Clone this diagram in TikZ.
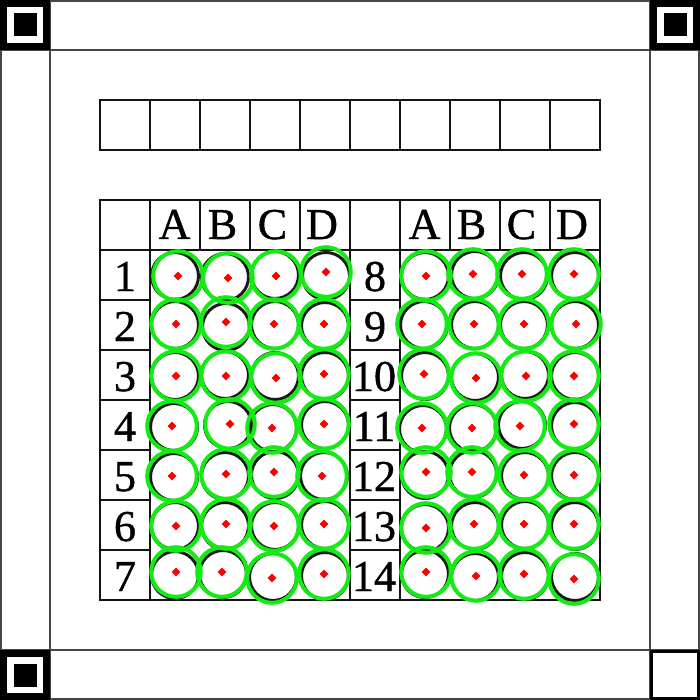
\documentclass[tikz,border=0pt]{standalone}
\usepackage{fontspec}
\setmainfont{Liberation Serif}
\newfontfamily\scanfont[FakeBold=1]{Liberation Serif}

\tikzset{every picture/.style={line width=2pt}}
\tikzset{
  sheetline/.style={draw={rgb, 255:red, 70; green, 70; blue, 70 }, line width=2pt},
  cellline/.style={draw={rgb, 255:red, 20; green, 20; blue, 20 }, line width=2pt},
  printed/.style={draw={rgb, 255:red, 25; green, 25; blue, 25 }, line width=3pt},
  found/.style={draw={rgb, 255:red, 20; green, 235; blue, 20 }, line width=4pt},
  ctr/.style={fill={rgb, 255:red, 255; green, 0; blue, 0 }, draw opacity=0},
  lbl/.style={font=\scanfont\fontsize{44}{44}\selectfont, anchor=base, inner sep=0pt},
}

\begin{document}
\begin{tikzpicture}[x=1pt,y=1pt,yscale=-1,xscale=1]
	\useasboundingbox (0,0) rectangle (700,700);

	%Shape: Rectangle [sheet edge]
	\draw [sheetline] (1,1) rectangle (699,699) ;
	%Straight Lines [margin strips]
	\draw [sheetline] (50,0) -- (50,700) ;
	\draw [sheetline] (650,0) -- (650,700) ;
	\draw [sheetline] (0,50) -- (700,50) ;
	\draw [sheetline] (0,650) -- (700,650) ;

	%Shape: Square [corner marks]
	\fill [black] (0,0) rectangle (50,50) ;
	\fill [white] (7,7) rectangle (43,43) ;
	\fill [black] (13.5,13.5) rectangle (36.5,36.5) ;
	\fill [black] (650,0) rectangle (700,50) ;
	\fill [white] (657,7) rectangle (693,43) ;
	\fill [black] (663.5,13.5) rectangle (686.5,36.5) ;
	\fill [black] (0,650) rectangle (50,700) ;
	\fill [white] (7,657) rectangle (43,693) ;
	\fill [black] (13.5,663.5) rectangle (36.5,686.5) ;
	\draw [line width=3pt] (651.5,651.5) rectangle (698.5,698.5) ;

	%Shape: Rectangle [id boxes]
	\draw [cellline] (100,100) rectangle (600,150) ;
	\draw [cellline] (150,100) -- (150,150) ;
	\draw [cellline] (200,100) -- (200,150) ;
	\draw [cellline] (250,100) -- (250,150) ;
	\draw [cellline] (300,100) -- (300,150) ;
	\draw [cellline] (350,100) -- (350,150) ;
	\draw [cellline] (400,100) -- (400,150) ;
	\draw [cellline] (450,100) -- (450,150) ;
	\draw [cellline] (500,100) -- (500,150) ;
	\draw [cellline] (550,100) -- (550,150) ;

	%Shape: Rectangle [answer table]
	\draw [cellline] (100,200) rectangle (600,600) ;
	\draw [cellline] (100,250) -- (600,250) ;
	\draw [cellline] (150,200) -- (150,600) ;
	\draw [cellline] (350,200) -- (350,600) ;
	\draw [cellline] (400,200) -- (400,600) ;
	\draw [cellline] (200,200) -- (200,250) ;
	\draw [cellline] (250,200) -- (250,250) ;
	\draw [cellline] (300,200) -- (300,250) ;
	\draw [cellline] (450,200) -- (450,250) ;
	\draw [cellline] (500,200) -- (500,250) ;
	\draw [cellline] (550,200) -- (550,250) ;
	\draw [cellline] (100,300) -- (150,300) (350,300) -- (400,300) ;
	\draw [cellline] (100,350) -- (150,350) (350,350) -- (400,350) ;
	\draw [cellline] (100,400) -- (150,400) (350,400) -- (400,400) ;
	\draw [cellline] (100,450) -- (150,450) (350,450) -- (400,450) ;
	\draw [cellline] (100,500) -- (150,500) (350,500) -- (400,500) ;
	\draw [cellline] (100,550) -- (150,550) (350,550) -- (400,550) ;

	%Shape: Circle [printed bubbles]
	\draw [printed] (175,276) circle (23.5) (225,277) circle (23.5) (275,275) circle (23.5) (326,276) circle (23.5) (425,276) circle (23.5) (475,275) circle (23.5) (524,276) circle (23.5) (575,276) circle (23.5) ;
	\draw [printed] (175,325) circle (23.5) (226,327) circle (23.5) (275,325) circle (23.5) (325,326) circle (23.5) (424,325) circle (23.5) (475,325) circle (23.5) (524,325) circle (23.5) (575,325) circle (23.5) ;
	\draw [printed] (175,376) circle (23.5) (225,375) circle (23.5) (275,376) circle (23.5) (325,376) circle (23.5) (425,376) circle (23.5) (475,377) circle (23.5) (525,375) circle (23.5) (575,376) circle (23.5) ;
	\draw [printed] (174,427) circle (23.5) (228,425) circle (23.5) (273,428) circle (23.5) (325,425) circle (23.5) (423,429) circle (23.5) (473,428) circle (23.5) (522,425) circle (23.5) (575,426) circle (23.5) ;
	\draw [printed] (174,477) circle (23.5) (225,476) circle (23.5) (275,475) circle (23.5) (324,476) circle (23.5) (425,475) circle (23.5) (473,474) circle (23.5) (525,476) circle (23.5) (575,476) circle (23.5) ;
	\draw [printed] (175,526) circle (23.5) (225,526) circle (23.5) (275,526) circle (23.5) (325,525) circle (23.5) (425,528) circle (23.5) (475,526) circle (23.5) (525,525) circle (23.5) (575,526) circle (23.5) ;
	\draw [printed] (175,575) circle (23.5) (223,574) circle (23.5) (273,577) circle (23.5) (325,576) circle (23.5) (425,574) circle (23.5) (475,577) circle (23.5) (525,576) circle (23.5) (575,577) circle (23.5) ;

	%Shape: Circle [detected bubbles]
	\draw [found] (178,276) circle (24.8) (228,278) circle (24.8) (276,276) circle (24.8) (326,272) circle (24.8) (426,276) circle (24.8) (473,274) circle (24.8) (522,274) circle (24.8) (574,274) circle (24.8) ;
	\draw [found] (176,324) circle (24.8) (226,322) circle (24.8) (274,324) circle (24.8) (324,324) circle (24.8) (422,324) circle (24.8) (474,324) circle (24.8) (524,324) circle (24.8) (576,324) circle (24.8) ;
	\draw [found] (176,376) circle (24.8) (226,376) circle (24.8) (276,378) circle (24.8) (324,374) circle (24.8) (424,374) circle (24.8) (476,378) circle (24.8) (526,376) circle (24.8) (574,376) circle (24.8) ;
	\draw [found] (172,426) circle (24.8) (230,424) circle (24.8) (272,428) circle (24.8) (324,424) circle (24.8) (422,428) circle (24.8) (472,428) circle (24.8) (520,426) circle (24.8) (574,424) circle (24.8) ;
	\draw [found] (172,476) circle (24.8) (226,474) circle (24.8) (274,472) circle (24.8) (322,476) circle (24.8) (426,472) circle (24.8) (472,472) circle (24.8) (524,475) circle (24.8) (574,475) circle (24.8) ;
	\draw [found] (176,526) circle (24.8) (226,524) circle (24.8) (274,526) circle (24.8) (324,524) circle (24.8) (426,528) circle (24.8) (474,524) circle (24.8) (524,524) circle (24.8) (574,524) circle (24.8) ;
	\draw [found] (176,572) circle (24.8) (222,572) circle (24.8) (272,578) circle (24.8) (324,574) circle (24.8) (426,572) circle (24.8) (476,576) circle (24.8) (524,574) circle (24.8) (574,579) circle (24.8) ;

	%Shape: Diamond [detected centres]
	\fill [ctr] (178,276) +(0,-4.3) -- +(4.3,0) -- +(0,4.3) -- +(-4.3,0) -- cycle (228,278) +(0,-4.3) -- +(4.3,0) -- +(0,4.3) -- +(-4.3,0) -- cycle (276,276) +(0,-4.3) -- +(4.3,0) -- +(0,4.3) -- +(-4.3,0) -- cycle (326,272) +(0,-4.3) -- +(4.3,0) -- +(0,4.3) -- +(-4.3,0) -- cycle ;
	\fill [ctr] (426,276) +(0,-4.3) -- +(4.3,0) -- +(0,4.3) -- +(-4.3,0) -- cycle (473,274) +(0,-4.3) -- +(4.3,0) -- +(0,4.3) -- +(-4.3,0) -- cycle (522,274) +(0,-4.3) -- +(4.3,0) -- +(0,4.3) -- +(-4.3,0) -- cycle (574,274) +(0,-4.3) -- +(4.3,0) -- +(0,4.3) -- +(-4.3,0) -- cycle ;
	\fill [ctr] (176,324) +(0,-4.3) -- +(4.3,0) -- +(0,4.3) -- +(-4.3,0) -- cycle (226,322) +(0,-4.3) -- +(4.3,0) -- +(0,4.3) -- +(-4.3,0) -- cycle (274,324) +(0,-4.3) -- +(4.3,0) -- +(0,4.3) -- +(-4.3,0) -- cycle (324,324) +(0,-4.3) -- +(4.3,0) -- +(0,4.3) -- +(-4.3,0) -- cycle ;
	\fill [ctr] (422,324) +(0,-4.3) -- +(4.3,0) -- +(0,4.3) -- +(-4.3,0) -- cycle (474,324) +(0,-4.3) -- +(4.3,0) -- +(0,4.3) -- +(-4.3,0) -- cycle (524,324) +(0,-4.3) -- +(4.3,0) -- +(0,4.3) -- +(-4.3,0) -- cycle (576,324) +(0,-4.3) -- +(4.3,0) -- +(0,4.3) -- +(-4.3,0) -- cycle ;
	\fill [ctr] (176,376) +(0,-4.3) -- +(4.3,0) -- +(0,4.3) -- +(-4.3,0) -- cycle (226,376) +(0,-4.3) -- +(4.3,0) -- +(0,4.3) -- +(-4.3,0) -- cycle (276,378) +(0,-4.3) -- +(4.3,0) -- +(0,4.3) -- +(-4.3,0) -- cycle (324,374) +(0,-4.3) -- +(4.3,0) -- +(0,4.3) -- +(-4.3,0) -- cycle ;
	\fill [ctr] (424,374) +(0,-4.3) -- +(4.3,0) -- +(0,4.3) -- +(-4.3,0) -- cycle (476,378) +(0,-4.3) -- +(4.3,0) -- +(0,4.3) -- +(-4.3,0) -- cycle (526,376) +(0,-4.3) -- +(4.3,0) -- +(0,4.3) -- +(-4.3,0) -- cycle (574,376) +(0,-4.3) -- +(4.3,0) -- +(0,4.3) -- +(-4.3,0) -- cycle ;
	\fill [ctr] (172,426) +(0,-4.3) -- +(4.3,0) -- +(0,4.3) -- +(-4.3,0) -- cycle (230,424) +(0,-4.3) -- +(4.3,0) -- +(0,4.3) -- +(-4.3,0) -- cycle (272,428) +(0,-4.3) -- +(4.3,0) -- +(0,4.3) -- +(-4.3,0) -- cycle (324,424) +(0,-4.3) -- +(4.3,0) -- +(0,4.3) -- +(-4.3,0) -- cycle ;
	\fill [ctr] (422,428) +(0,-4.3) -- +(4.3,0) -- +(0,4.3) -- +(-4.3,0) -- cycle (472,428) +(0,-4.3) -- +(4.3,0) -- +(0,4.3) -- +(-4.3,0) -- cycle (520,426) +(0,-4.3) -- +(4.3,0) -- +(0,4.3) -- +(-4.3,0) -- cycle (574,424) +(0,-4.3) -- +(4.3,0) -- +(0,4.3) -- +(-4.3,0) -- cycle ;
	\fill [ctr] (172,476) +(0,-4.3) -- +(4.3,0) -- +(0,4.3) -- +(-4.3,0) -- cycle (226,474) +(0,-4.3) -- +(4.3,0) -- +(0,4.3) -- +(-4.3,0) -- cycle (274,472) +(0,-4.3) -- +(4.3,0) -- +(0,4.3) -- +(-4.3,0) -- cycle (322,476) +(0,-4.3) -- +(4.3,0) -- +(0,4.3) -- +(-4.3,0) -- cycle ;
	\fill [ctr] (426,472) +(0,-4.3) -- +(4.3,0) -- +(0,4.3) -- +(-4.3,0) -- cycle (472,472) +(0,-4.3) -- +(4.3,0) -- +(0,4.3) -- +(-4.3,0) -- cycle (524,475) +(0,-4.3) -- +(4.3,0) -- +(0,4.3) -- +(-4.3,0) -- cycle (574,475) +(0,-4.3) -- +(4.3,0) -- +(0,4.3) -- +(-4.3,0) -- cycle ;
	\fill [ctr] (176,526) +(0,-4.3) -- +(4.3,0) -- +(0,4.3) -- +(-4.3,0) -- cycle (226,524) +(0,-4.3) -- +(4.3,0) -- +(0,4.3) -- +(-4.3,0) -- cycle (274,526) +(0,-4.3) -- +(4.3,0) -- +(0,4.3) -- +(-4.3,0) -- cycle (324,524) +(0,-4.3) -- +(4.3,0) -- +(0,4.3) -- +(-4.3,0) -- cycle ;
	\fill [ctr] (426,528) +(0,-4.3) -- +(4.3,0) -- +(0,4.3) -- +(-4.3,0) -- cycle (474,524) +(0,-4.3) -- +(4.3,0) -- +(0,4.3) -- +(-4.3,0) -- cycle (524,524) +(0,-4.3) -- +(4.3,0) -- +(0,4.3) -- +(-4.3,0) -- cycle (574,524) +(0,-4.3) -- +(4.3,0) -- +(0,4.3) -- +(-4.3,0) -- cycle ;
	\fill [ctr] (176,572) +(0,-4.3) -- +(4.3,0) -- +(0,4.3) -- +(-4.3,0) -- cycle (222,572) +(0,-4.3) -- +(4.3,0) -- +(0,4.3) -- +(-4.3,0) -- cycle (272,578) +(0,-4.3) -- +(4.3,0) -- +(0,4.3) -- +(-4.3,0) -- cycle (324,574) +(0,-4.3) -- +(4.3,0) -- +(0,4.3) -- +(-4.3,0) -- cycle ;
	\fill [ctr] (426,572) +(0,-4.3) -- +(4.3,0) -- +(0,4.3) -- +(-4.3,0) -- cycle (476,576) +(0,-4.3) -- +(4.3,0) -- +(0,4.3) -- +(-4.3,0) -- cycle (524,574) +(0,-4.3) -- +(4.3,0) -- +(0,4.3) -- +(-4.3,0) -- cycle (574,579) +(0,-4.3) -- +(4.3,0) -- +(0,4.3) -- +(-4.3,0) -- cycle ;

	% Text Node
	\draw (174.5,239) node [lbl] (hdA) {A};
	% Text Node
	\draw (222.5,239) node [lbl] (hdB) {B};
	% Text Node
	\draw (272.5,239) node [lbl] (hdC) {C};
	% Text Node
	\draw (322,239) node [lbl] (hdD) {D};
	% Text Node
	\draw (424.5,239) node [lbl] (hdAr) {A};
	% Text Node
	\draw (471.5,239) node [lbl] (hdBr) {B};
	% Text Node
	\draw (521.5,239) node [lbl] (hdCr) {C};
	% Text Node
	\draw (572,239) node [lbl] (hdDr) {D};
	% Text Node
	\draw (125,291) node [lbl] (row1) {1};
	% Text Node
	\draw (125,341) node [lbl] (row2) {2};
	% Text Node
	\draw (125,391) node [lbl] (row3) {3};
	% Text Node
	\draw (125,441) node [lbl] (row4) {4};
	% Text Node
	\draw (125,491) node [lbl] (row5) {5};
	% Text Node
	\draw (125,541) node [lbl] (row6) {6};
	% Text Node
	\draw (125,591) node [lbl] (row7) {7};
	% Text Node
	\draw (375,291) node [lbl] (row8) {8};
	% Text Node
	\draw (375,341) node [lbl] (row9) {9};
	% Text Node
	\draw (374,391) node [lbl] (row10) {10};
	% Text Node
	\draw (374,441) node [lbl] (row11) {11};
	% Text Node
	\draw (374,491) node [lbl] (row12) {12};
	% Text Node
	\draw (374,541) node [lbl] (row13) {13};
	% Text Node
	\draw (374,591) node [lbl] (row14) {14};

\end{tikzpicture}
\end{document}
